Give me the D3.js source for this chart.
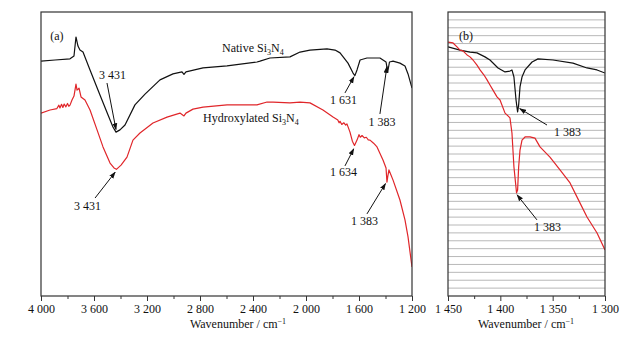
<!DOCTYPE html>
<html>
<head>
<meta charset="utf-8">
<script src="https://cdn.jsdelivr.net/npm/d3@7"></script>
<style>
  body { margin: 0; background: #fff; }
  svg text { font-family: "Liberation Serif", "Times New Roman", "DejaVu Serif", serif; }
</style>
</head>
<body>
<div id="chart"></div>
<script>
// Panel (a): full spectrum, [wavenumber, relative transmittance]
const nativeA = [
  [4000,82.7],[3894,83.1],[3781,83.5],[3751,84.5],[3736,91.2],[3721,88.0],[3706,86.6],[3683,85.9],
  [3630,79.6],[3555,70.8],[3494,63.7],[3457,59.5],[3434,57.7],[3404,58.5],[3366,60.2],[3291,67.3],
  [3215,71.1],[3102,76.1],[3004,78.2],[2936,78.9],[2921,78.0],[2906,78.9],[2777,80.3],[2596,81.0],
  [2370,82.4],[2347,82.7],[2272,83.8],[2121,84.2],[2045,85.9],[1970,86.6],[1842,87.0],[1781,86.6],
  [1743,85.6],[1683,82.0],[1645,78.5],[1631,77.6],[1615,79.6],[1592,83.1],[1540,83.8],[1442,83.8],
  [1396,82.4],[1383,79.0],[1370,82.4],[1343,82.7],[1291,82.0],[1253,81.0],[1230,78.2],[1200,73.2]
];
const hydroxA = [
  [4000,64.4],[3932,65.5],[3880,66.0],[3865,67.2],[3857,66.2],[3845,67.5],[3835,66.4],[3825,67.6],
  [3812,66.6],[3800,67.8],[3790,66.8],[3781,67.2],[3766,69.0],[3751,70.4],[3736,74.6],[3728,72.5],
  [3713,73.2],[3698,70.1],[3668,69.0],[3630,65.5],[3577,58.5],[3532,52.5],[3479,46.8],[3449,45.1],
  [3431,44.6],[3396,46.1],[3351,48.9],[3306,54.9],[3253,57.4],[3155,60.9],[3049,63.0],[2951,64.4],
  [2921,63.4],[2906,64.4],[2853,65.8],[2777,66.5],[2596,67.3],[2370,67.3],[2294,68.3],[2249,68.3],
  [2121,68.0],[2045,68.3],[1970,68.0],[1872,65.5],[1796,63.0],[1760,62.0],[1750,61.0],[1743,61.5],
  [1730,60.4],[1715,61.0],[1700,60.2],[1691,60.6],[1668,57.7],[1650,54.5],[1634,53.0],[1615,54.9],
  [1600,56.8],[1590,55.9],[1577,56.5],[1560,55.7],[1545,55.9],[1530,55.0],[1517,54.9],[1490,53.8],
  [1464,52.5],[1419,47.9],[1396,45.1],[1389,40.1],[1383,42.0],[1374,44.4],[1343,40.8],[1291,33.8],
  [1253,26.8],[1230,20.8],[1200,10.2]
];
// Panel (b): zoom around 1 383 cm-1
const nativeB = [
  [1450,87.7],[1438.5,86.6],[1429,85.9],[1422.3,85.6],[1414.7,84.2],[1409.9,83.1],[1402.2,80.3],
  [1395.5,78.9],[1390.8,79.2],[1388.9,79.6],[1387,77.1],[1385,69.0],[1383.5,64.8],[1382.5,67.3],
  [1381.2,73.6],[1379.3,77.1],[1376.4,79.6],[1369.7,82.4],[1364,83.5],[1349.7,83.1],[1330.6,82.0],
  [1317.2,80.3],[1307.6,79.6],[1300,78.5]
];
const hydroxB = [
  [1450,89.4],[1445.2,89.1],[1441.4,87.7],[1438.5,86.6],[1435.7,86.3],[1431.8,84.9],[1429,84.2],
  [1426.1,83.1],[1422.3,81.3],[1419.4,79.6],[1415.6,77.8],[1412.7,76.1],[1409.9,74.3],[1407,72.5],
  [1403.2,70.1],[1400.3,69.0],[1395.5,64.4],[1392.7,63.4],[1390.8,62.7],[1388.9,57.4],[1387,45.4],
  [1384.5,36.3],[1383.5,37.3],[1382.5,45.4],[1381.2,51.4],[1379.3,54.9],[1376.4,56.0],[1371.7,56.0],
  [1366.9,55.6],[1362.1,52.5],[1352.6,48.9],[1343,44.4],[1333.4,39.8],[1326.8,34.9],[1317.2,27.8],
  [1307.6,22.2],[1300,16.2]
];

const ticksA = [4000, 3600, 3200, 2800, 2400, 2000, 1600, 1200];
const minorA = [3800, 3400, 3000, 2600, 2200, 1800, 1400];
const ticksB = [1450, 1400, 1350, 1300];
const minorB = [1425, 1375, 1325];
const gridRowsB = d3.range(1, 36);

// annotation labels: [text, label wn, label T, arrow from wn, T, arrow to wn, T]
const notesA = [
  ["3 431", 3460, 76.4, 3502, 75.0, 3434, 58.6],
  ["1 631", 1717, 67.6, 1706, 71.5, 1638, 77.2],
  ["1 383", 1426, 59.9, 1442, 64.1, 1389, 80.8],
  ["1 634", 1717, 42.3, 1706, 45.8, 1640, 51.8],
  ["1 383", 1559, 25.0, 1540, 28.9, 1400, 39.6],
  ["3 431", 3649, 30.3, 3592, 34.5, 3440, 43.6]
];
const notesB = [
  ["1 383", 1335.8, 56.3, 1355.4, 60.2, 1381.5, 66.0],
  ["1 383", 1354.9, 22.9, 1365, 26.8, 1384, 35.6]
];

const W = 638, H = 341;
const SERIF = '"Liberation Serif", "Times New Roman", "DejaVu Serif", serif';
const svg = d3.select("#chart").append("svg").attr("width", W).attr("height", H)
  .attr("font-family", SERIF);

svg.append("defs").append("marker")
  .attr("id", "arrow").attr("viewBox", "0 0 10 10").attr("refX", 9).attr("refY", 5)
  .attr("markerWidth", 7).attr("markerHeight", 7).attr("markerUnits", "userSpaceOnUse")
  .attr("orient", "auto")
  .append("path").attr("d", "M0,1.5 L10,5 L0,8.5 Z").attr("fill", "#111");

const fmt = d3.formatLocale({decimal: ".", thousands: " ", grouping: [3], currency: ["", ""]}).format(",");

const plotTop = 12, plotBottom = 296;
const xA = d3.scaleLinear().domain([4000, 1200]).range([41, 412]);
const xB = d3.scaleLinear().domain([1450, 1300]).range([448, 605]);
const yT = d3.scaleLinear().domain([0, 100]).range([plotBottom, plotTop]);
const yGrid = d3.scaleLinear().domain([0, 36]).range([plotBottom, plotTop]);

function panel(id, x, ticks, minor, series, notes, tag, tagPos, titleX) {
  const g = svg.append("g");
  const [x0, x1] = x.range();

  g.append("clipPath").attr("id", "clip" + id)
    .append("rect").attr("x", x0).attr("y", plotTop).attr("width", x1 - x0).attr("height", plotBottom - plotTop);

  const line = d3.line().x(d => x(d[0])).y(d => yT(d[1]));
  const plot = g.append("g").attr("clip-path", `url(#clip${id})`);
  series.forEach(s => {
    plot.append("path").datum(s.data).attr("d", line)
      .attr("fill", "none").attr("stroke", s.color).attr("stroke-width", 1.2)
      .attr("stroke-linejoin", "round");
  });

  // axis
  const ax = g.append("g").attr("transform", `translate(0,${plotBottom})`)
    .call(d3.axisBottom(x).tickValues(ticks).tickFormat(fmt).tickSize(5).tickSizeOuter(0))
    .attr("font-family", SERIF).attr("font-size", 12);
  ax.select(".domain").remove();
  ax.selectAll("line").attr("stroke", "#333");
  ax.selectAll("text").attr("fill", "#111");
  g.append("g").attr("transform", `translate(0,${plotBottom})`)
    .call(d3.axisBottom(x).tickValues(minor).tickFormat("").tickSize(3).tickSizeOuter(0))
    .call(a => a.select(".domain").remove())
    .selectAll("line").attr("stroke", "#333");

  g.append("rect").attr("x", x0).attr("y", plotTop).attr("width", x1 - x0).attr("height", plotBottom - plotTop)
    .attr("fill", "none").attr("stroke", "#333").attr("stroke-width", 1.2);

  const title = g.append("text").attr("x", titleX).attr("y", 328).attr("text-anchor", "middle")
    .attr("font-size", 12).attr("fill", "#111").text("Wavenumber / cm");
  title.append("tspan").attr("font-size", 8).attr("dy", -4).text("\u22121");

  g.append("text").attr("x", x(tagPos[0])).attr("y", yT(tagPos[1]))
    .attr("font-size", 12).attr("fill", "#111").text(tag);

  notes.forEach(n => {
    g.append("text").attr("x", x(n[1])).attr("y", yT(n[2])).attr("text-anchor", "middle")
      .attr("font-size", 12).attr("fill", "#111").text(n[0]);
    g.append("line").attr("x1", x(n[3])).attr("y1", yT(n[4])).attr("x2", x(n[5])).attr("y2", yT(n[6]))
      .attr("stroke", "#111").attr("stroke-width", 1).attr("marker-end", "url(#arrow)");
  });
  return g;
}

// panel (b) grid rows drawn first
svg.append("g").selectAll("line").data(gridRowsB).join("line")
  .attr("x1", xB.range()[0]).attr("x2", xB.range()[1])
  .attr("y1", d => yGrid(d)).attr("y2", d => yGrid(d))
  .attr("stroke", "#b8b8b8").attr("stroke-width", 1);

const gA = panel("A", xA, ticksA, minorA,
  [{data: nativeA, color: "#111"}, {data: hydroxA, color: "#e0262a"}],
  notesA, "(a)", [3930, 90.3], 238);
panel("B", xB, ticksB, minorB,
  [{data: nativeB, color: "#111"}, {data: hydroxB, color: "#e0262a"}],
  notesB, "(b)", [1439.5, 90.3], 526);

// curve names with subscripts
function nameLabel(txt, wn, t) {
  const el = gA.append("text").attr("x", xA(wn)).attr("y", yT(t)).attr("font-size", 12).attr("fill", "#111");
  el.append("tspan").text(txt + " Si");
  el.append("tspan").attr("font-size", 8).attr("dy", 3).text("3");
  el.append("tspan").attr("dy", -3).text("N");
  el.append("tspan").attr("font-size", 8).attr("dy", 3).text("4");
}
nameLabel("Native", 2634, 85.9);
nameLabel("Hydroxylated", 2777, 61.3);
</script>
</body>
</html>
